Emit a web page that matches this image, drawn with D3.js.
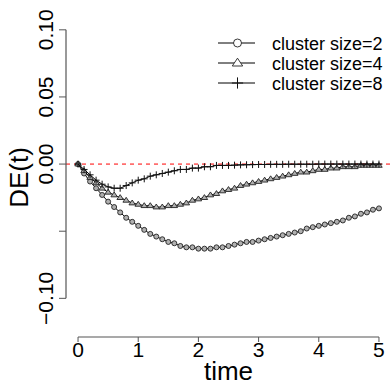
<!DOCTYPE html>
<html>
<head>
<meta charset="utf-8">
<script src="https://cdn.jsdelivr.net/npm/d3@7"></script>
<style>
  body { margin: 0; background: #fff; }
  svg { display: block; font-family: "Liberation Sans", Arial, sans-serif; }
</style>
</head>
<body>
<svg id="chart" width="390" height="386"></svg>
<script>
// time grid, step 0.1
const times = d3.range(51).map(i => i / 10)

// DE(t)
const size2 = [0, -0.007, -0.013, -0.018, -0.023, -0.028, -0.032, -0.036, -0.040, -0.043,
  -0.046, -0.049, -0.052, -0.054, -0.056, -0.058, -0.059, -0.061, -0.062, -0.062,
  -0.063, -0.063, -0.063, -0.062, -0.062, -0.061, -0.060, -0.059, -0.058, -0.058,
  -0.057, -0.056, -0.055, -0.054, -0.053, -0.052, -0.051, -0.050, -0.048, -0.047,
  -0.046, -0.045, -0.044, -0.043, -0.042, -0.040, -0.039, -0.037, -0.036, -0.034, -0.033]
const size4 = [0, -0.005, -0.010, -0.014, -0.018, -0.021, -0.023, -0.025, -0.027, -0.029,
  -0.030, -0.031, -0.031, -0.032, -0.032, -0.031, -0.031, -0.030, -0.029, -0.027,
  -0.026, -0.025, -0.023, -0.022, -0.020, -0.019, -0.018, -0.016, -0.015, -0.014,
  -0.013, -0.012, -0.011, -0.010, -0.009, -0.008, -0.007, -0.006, -0.006, -0.005,
  -0.004, -0.004, -0.003, -0.003, -0.002, -0.002, -0.002, -0.001, -0.001, -0.001, -0.001]
const size8 = [0, -0.004, -0.008, -0.012, -0.015, -0.017, -0.018, -0.018, -0.016, -0.014,
  -0.012, -0.011, -0.009, -0.008, -0.007, -0.006, -0.005, -0.004, -0.004, -0.003,
  -0.003, -0.002, -0.002, -0.001, -0.001, -0.001, -0.0008, -0.0006, -0.0005, -0.0004,
  -0.0003, -0.0003, -0.0002, -0.0002, -0.0002, -0.0001, -0.0001, -0.0001, -0.0001, -0.0001,
  0, 0, 0, 0, 0, 0, 0, 0, 0, 0, 0]

const seriesNames = ['cluster size=2', 'cluster size=4', 'cluster size=8']
const seriesShapes = ['circle', 'triangle', 'plus']
const xTicks = [0, 1, 2, 3, 4, 5]
const yTicks = [-0.10, -0.05, 0.00, 0.05, 0.10]
const yTickLabels = ['\u22120.10', '', '0.00', '0.05', '0.10']

const series = [size2, size4, size8].map((vals, i) => ({
  name: seriesNames[i],
  shape: seriesShapes[i],
  values: vals.map((v, j) => ({ t: times[j], v: v }))
}))

const svg = d3.select('#chart')

// plot region (R style, 4% padding)
const plotL = 66, plotR = 391, plotT = 18, plotB = 337
const xPad = 5 * 0.04, yPad = 0.22 * 0.04
const x = d3.scaleLinear().domain([-xPad, 5 + xPad]).range([plotL, plotR])
const y = d3.scaleLinear().domain([-0.12 - yPad, 0.10 + yPad]).range([plotB, plotT])

// reference line at 0
svg.append('line')
  .attr('x1', plotL).attr('x2', 390)
  .attr('y1', y(0)).attr('y2', y(0))
  .attr('stroke', '#ff0000').attr('stroke-width', 1)
  .attr('stroke-dasharray', '4,4')

// y axis
const yAxis = svg.append('g').attr('stroke', '#555')
yAxis.append('line')
  .attr('x1', plotL).attr('x2', plotL)
  .attr('y1', y(0.10)).attr('y2', y(-0.10))
  .attr('stroke-width', 1.2)
yAxis.selectAll('.tk').data(yTicks).enter().append('line')
  .attr('x1', plotL - 7).attr('x2', plotL)
  .attr('y1', d => y(d)).attr('y2', d => y(d))
svg.selectAll('.ylab').data(yTicks).enter().append('text')
  .attr('transform', d => `translate(53,${y(d)}) rotate(-90)`)
  .attr('text-anchor', 'middle')
  .attr('font-size', 21)
  .text((d, i) => yTickLabels[i])

// x axis
const xAxis = svg.append('g').attr('stroke', '#555')
xAxis.append('line')
  .attr('x1', x(0)).attr('x2', x(5))
  .attr('y1', plotB).attr('y2', plotB)
  .attr('stroke-width', 1.2)
xAxis.selectAll('.tk').data(xTicks).enter().append('line')
  .attr('x1', d => x(d)).attr('x2', d => x(d))
  .attr('y1', plotB).attr('y2', plotB + 5)
svg.selectAll('.xlab').data(xTicks).enter().append('text')
  .attr('x', d => x(d)).attr('y', 357)
  .attr('text-anchor', 'middle')
  .attr('font-size', 21)
  .text(d => d)

// axis titles
svg.append('text')
  .attr('x', (plotL + plotR) / 2).attr('y', 380)
  .attr('text-anchor', 'middle').attr('font-size', 26)
  .text('time')
svg.append('text')
  .attr('transform', `translate(28,${(plotT + plotB) / 2}) rotate(-90)`)
  .attr('text-anchor', 'middle').attr('font-size', 26)
  .text('DE(t)')

function drawSymbol(g, shape, cx, cy, s, fill) {
  if (shape === 'circle') {
    g.append('circle').attr('cx', cx).attr('cy', cy).attr('r', s)
      .attr('fill', fill).attr('stroke', '#222').attr('stroke-width', 0.9)
  } else if (shape === 'triangle') {
    const h = s * 1.5
    g.append('path')
      .attr('d', `M${cx},${cy - h * 0.8}L${cx + s * 1.3},${cy + h * 0.5}L${cx - s * 1.3},${cy + h * 0.5}Z`)
      .attr('fill', fill).attr('stroke', '#222').attr('stroke-width', 0.9)
  } else {
    const r = s * 1.4
    g.append('path')
      .attr('d', `M${cx - r},${cy}H${cx + r}M${cx},${cy - r}V${cy + r}`)
      .attr('stroke', '#111').attr('stroke-width', 1)
  }
}

const line = d3.line().x(d => x(d.t)).y(d => y(d.v))

series.forEach(s => {
  svg.append('path')
    .datum(s.values)
    .attr('fill', 'none').attr('stroke', '#000').attr('stroke-width', 1)
    .attr('d', line)
  const g = svg.append('g')
  s.values.forEach(d => drawSymbol(g, s.shape, x(d.t), y(d.v), 2.5, '#b0b0b0'))
})

// legend
const legend = svg.append('g')
seriesNames.forEach((name, i) => {
  const ly = 43 + i * 20
  legend.append('line')
    .attr('x1', 218).attr('x2', 255).attr('y1', ly).attr('y2', ly)
    .attr('stroke', '#000').attr('stroke-width', 1)
  drawSymbol(legend, seriesShapes[i], 237.5, ly, 4, '#fff')
  legend.append('text')
    .attr('x', 272).attr('y', ly + 6.5)
    .attr('font-size', 18)
    .text(name)
})
</script>
</body>
</html>
